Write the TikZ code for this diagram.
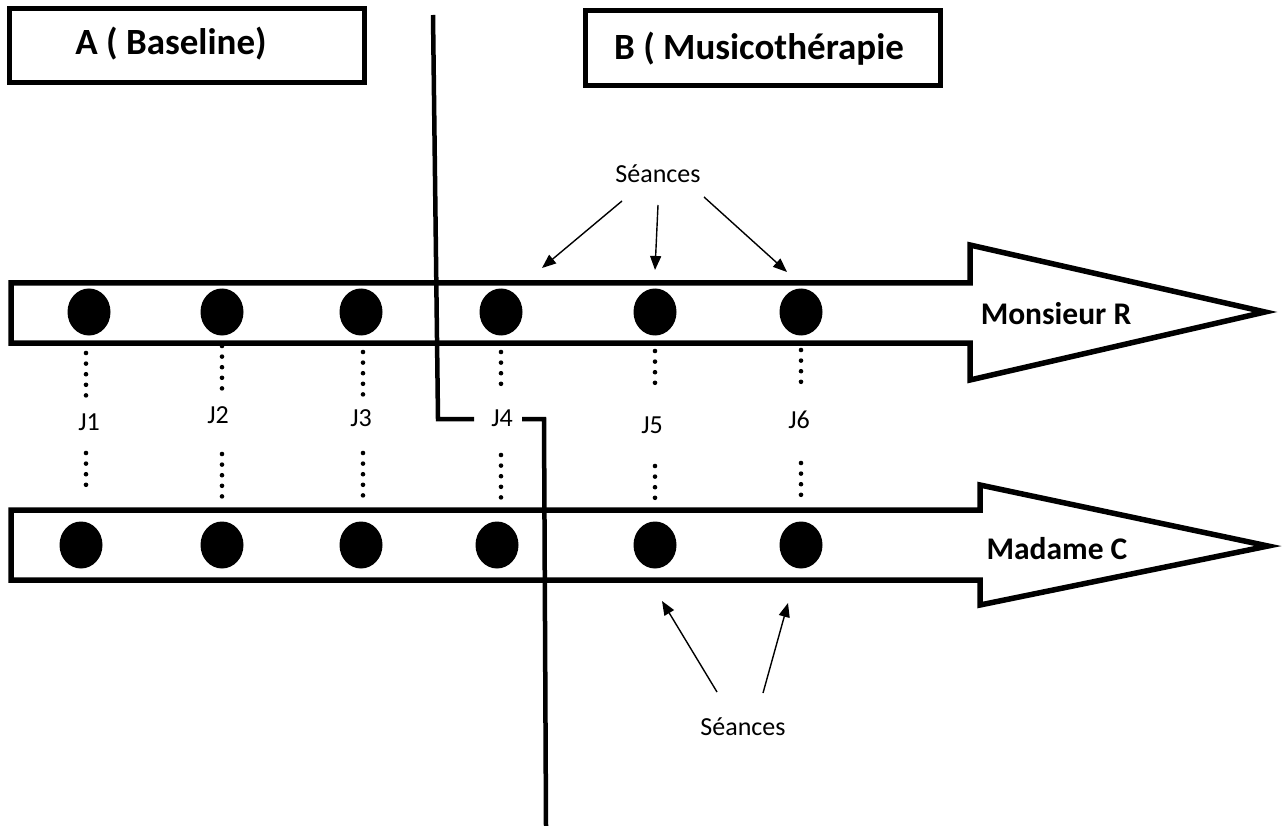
\documentclass[tikz,border=0pt]{standalone}
\usepackage{fontspec}
\setmainfont{Carlito}
\usetikzlibrary{shapes.geometric,arrows.meta}
\begin{document}
\begin{tikzpicture}[x=1pt,y=-1pt,
  titlebox/.style={draw,line width=5pt},
  bigarrow/.style={draw,line width=5.5pt,line join=miter},
  divider/.style={draw,line width=4.5pt},
  dot/.style={ellipse,fill=black,minimum width=43pt,minimum height=47pt,inner sep=0pt},
  dotline/.style={line width=4.6pt,line cap=round,dash pattern=on 0pt off 10.6pt},
  jlabel/.style={font=\fontsize{26}{30}\selectfont},
  namelabel/.style={font=\fontsize{31.5}{38}\selectfont\bfseries},
  titlelabel/.style={font=\fontsize{37}{44}\selectfont\bfseries},
  seance/.style={font=\fontsize{26}{30}\selectfont},
  ptr/.style={line width=1.4pt,-{Triangle[length=14pt,width=11pt]}}]
\useasboundingbox (0,0) rectangle (1282,826);
% title boxes
\draw[titlebox] (9.5,8.5) rectangle (364.5,82.5);
\node[titlelabel] (ta) at (171,44) {A ( Baseline)};
\draw[titlebox] (585.5,10.5) rectangle (940.5,85.5);
\node[titlelabel] (tb) at (759,49) {B ( Musicothérapie};
% big arrows
\draw[bigarrow] (11,283) -- (970,283) -- (970,245) -- (1265,312) -- (970,380) -- (970,343) -- (11,343) -- cycle;
\draw[bigarrow] (11,510) -- (980,510) -- (980,485) -- (1268,546) -- (980,605) -- (980,580) -- (11,580) -- cycle;
\node[namelabel] (mr) at (1056,314) {Monsieur R};
\node[namelabel] (mc) at (1057,549) {Madame C};
% dots
\foreach \i/\x in {1/89,2/222,3/361,4/501,5/655,6/801}
  \node[dot] (c\i) at (\x,312) {};
\foreach \i/\x in {1/81,2/222,3/361,4/497,5/655,6/801}
  \node[dot] (d\i) at (\x,545) {};
% dotted links and labels
\foreach \i/\x/\ua/\ub/\la/\lb in {1/86/353/396/453/495,2/222/346/389/454/498,3/363/352/395/453/496,4/501/352/394/455/498,5/655/351/393/466/500,6/801/350/392/463/504}{
  \coordinate (ua\i) at (\x,\ua);
  \coordinate (ub\i) at (\x,\ub);
  \coordinate (la\i) at (\x,\la);
  \coordinate (lb\i) at (\x,\lb);
  \draw[dotline] (ua\i) -- (ub\i);
  \draw[dotline] (la\i) -- (lb\i);
}
\node[jlabel] (j1) at (89,422) {J1};
\node[jlabel] (j2) at (218,415) {J2};
\node[jlabel] (j3) at (361,418) {J3};
\node[jlabel] (j4) at (502,418) {J4};
\node[jlabel] (j5) at (652,425) {J5};
\node[jlabel] (j6) at (799,420) {J6};
% dividers
\coordinate (v1a) at (433,15);
\coordinate (v1b) at (438,419);
\coordinate (v1c) at (474,419);
\coordinate (v2a) at (522,419);
\coordinate (v2b) at (544,419);
\coordinate (v2c) at (546,826);
\draw[divider] (v1a) -- (v1b) -- (v1c);
\draw[divider] (v2a) -- (v2b) -- (v2c);
% seances top
\node[seance] (s1) at (658,174) {Séances};
\coordinate (t1) at (542,268);
\coordinate (t2) at (655,270);
\coordinate (t3) at (787,272);
\draw[ptr] (622,201) -- (t1);
\draw[ptr] (658,205) -- (t2);
\draw[ptr] (704,197) -- (t3);
% seances bottom
\node[seance] (s2) at (743,727) {Séances};
\coordinate (b1) at (662,601);
\coordinate (b2) at (788,603);
\draw[ptr] (717,692) -- (b1);
\draw[ptr] (763,693) -- (b2);
\end{tikzpicture}
\end{document}
